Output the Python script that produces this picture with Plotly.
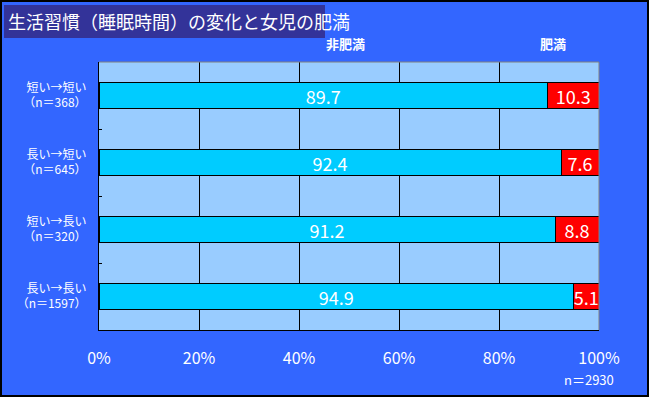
import plotly.graph_objects as go

categories = ["短い→短い<br>（n＝368）", "長い→短い<br>（n＝645）", "短い→長い<br>（n＝320）", "長い→長い<br>（n＝1597）"]
non_obese = [89.7, 92.4, 91.2, 94.9]
obese = [10.3, 7.6, 8.8, 5.1]
series_names = ["非肥満", "肥満"]
tick_vals = [0, 20, 40, 60, 80, 100]
tick_labels = ["0%", "20%", "40%", "60%", "80%", "100%"]
title_text = "生活習慣（睡眠時間）の変化と女児の肥満"
total_note = "n＝2930"

W, H = 649, 397
L, R, T, B = 99, 50, 62, 67
pw, ph = W - L - R, H - T - B

font_jp = "Noto Sans CJK JP"

fig = go.Figure()
fig.add_trace(go.Bar(
    y=categories, x=non_obese, orientation="h", name=series_names[0],
    marker=dict(color="#00CCFF", line=dict(color="black", width=1)),
    text=[f"{v:.1f}" for v in non_obese], textposition="inside", textangle=0,
    constraintext="none", insidetextanchor="middle",
    textfont=dict(color="white", size=18, family=font_jp),
    width=0.385,
))
fig.add_trace(go.Bar(
    y=categories, x=obese, orientation="h", name=series_names[1],
    marker=dict(color="#FF0000", line=dict(color="black", width=1)),
    text=[f"{v:.1f}" for v in obese], textposition="inside", textangle=0,
    constraintext="none", insidetextanchor="middle",
    textfont=dict(color="white", size=18, family=font_jp),
    width=0.385, cliponaxis=False,
))

fig.update_layout(
    width=W, height=H,
    margin=dict(l=L, r=R, t=T, b=B, autoexpand=False),
    barmode="stack",
    showlegend=False,
    uniformtext=dict(mode=False),
    paper_bgcolor="#3366FF",
    plot_bgcolor="#99CCFF",
    font=dict(family=font_jp, color="white"),
    xaxis=dict(
        range=[0, 100], tickvals=tick_vals, ticktext=tick_labels,
        showgrid=True, gridcolor="black", gridwidth=1,
        showline=True, linecolor="black", linewidth=1,
        ticks="", tickfont=dict(size=16, color="white", family=font_jp),
        ticklabelstandoff=14, zeroline=False, fixedrange=True, automargin=False,
    ),
    yaxis=dict(
        autorange="reversed", showgrid=False,
        showline=True, linecolor="black", linewidth=1,
        ticks="inside", ticklen=3, tickcolor="black", tickson="boundaries",
        tickfont=dict(size=12, color="white", family=font_jp),
        ticklabelstandoff=9, automargin=False,
    ),
)

shapes = [
    # outer border
    dict(type="rect", xref="paper", yref="paper",
         x0=-(L - 1) / pw, x1=1 + (R - 1) / pw, y0=-(B - 1) / ph, y1=1 + (T - 1) / ph,
         line=dict(color="black", width=2), layer="below"),
    # title box
    dict(type="rect", xref="paper", yref="paper",
         x0=-(L - 4) / pw, x1=(325 - L) / pw, y0=1 + (T - 38) / ph, y1=1 + (T - 5) / ph,
         fillcolor="#333399", line=dict(width=0), layer="above"),
    # top and right plot edges (grey)
    dict(type="line", xref="paper", yref="paper", x0=0, x1=1, y0=1, y1=1,
         line=dict(color="#808080", width=1)),
    dict(type="line", xref="paper", yref="paper", x0=1, x1=1, y0=0, y1=1,
         line=dict(color="#808080", width=1)),
]
fig.update_layout(shapes=shapes)

annotations = [
    dict(text=title_text, xref="paper", yref="paper",
         x=-(L - 6) / pw, y=1 + (T - 21.5) / ph, xanchor="left", yanchor="middle",
         showarrow=False, font=dict(size=18, color="white", family=font_jp)),
    dict(text="<b>" + series_names[0] + "</b>", xref="paper", yref="paper",
         x=(345 - L) / pw, y=1 + (T - 44) / ph, xanchor="center", yanchor="middle",
         showarrow=False, font=dict(size=13, color="white", family=font_jp)),
    dict(text="<b>" + series_names[1] + "</b>", xref="paper", yref="paper",
         x=(553 - L) / pw, y=1 + (T - 44) / ph, xanchor="center", yanchor="middle",
         showarrow=False, font=dict(size=13, color="white", family=font_jp)),
    dict(text=total_note, xref="paper", yref="paper",
         x=(616 - L) / pw, y=-(379 - (H - B)) / ph, xanchor="right", yanchor="middle",
         showarrow=False, font=dict(size=13, color="white", family=font_jp)),
]
fig.update_layout(annotations=annotations)

fig.write_html("out.html", config={"displayModeBar": False},
               post_script="document.body.style.margin='0';document.body.style.overflow='hidden';")
